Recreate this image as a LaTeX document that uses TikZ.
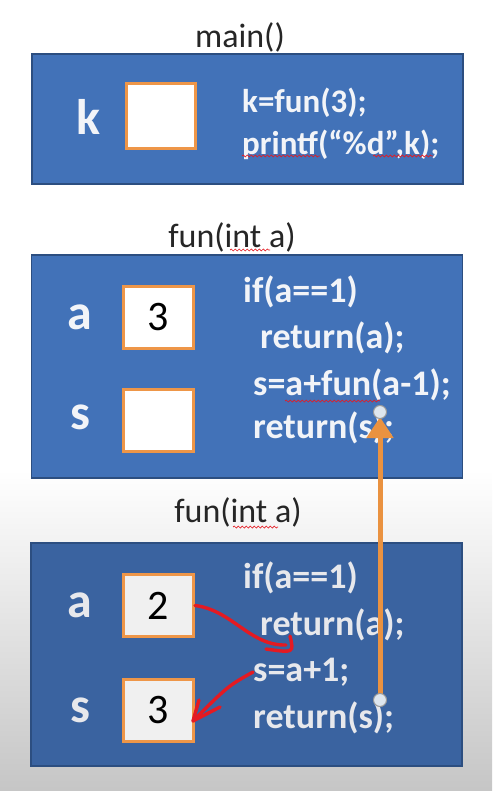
\documentclass[tikz,border=0pt]{standalone}
\usepackage{fontspec}
\setmainfont{Carlito}
\usetikzlibrary{%
		arrows.meta%
		,decorations.pathmorphing%
	}

\definecolor{frameblue}{RGB}{66,114,184}
\definecolor{framedark}{RGB}{44,78,128}
\definecolor{lowblue}{RGB}{58,99,160}
\definecolor{boxorange}{RGB}{238,150,72}
\definecolor{retorange}{RGB}{234,146,64}
\definecolor{penred}{RGB}{228,26,34}
\definecolor{codewhite}{RGB}{242,244,248}
\definecolor{handle}{RGB}{222,230,238}

\begin{document}
\begin{tikzpicture}[x=1pt,y=-1pt,
		frame/.style={draw=framedark, line width=1.8pt, minimum width=431pt, inner sep=0pt},
		valbox/.style={draw=boxorange, line width=3pt, fill=white, minimum width=70pt, minimum height=62pt, font=\fontsize{42}{42}\selectfont},
		varname/.style={text=codewhite, font=\fontsize{50}{50}\selectfont\bfseries},
		title/.style={text=black!85, font=\fontsize{34}{34}\selectfont},
		code/.style={anchor=west, inner sep=0pt, text=codewhite, font=\fontsize{36}{36}\selectfont\bfseries},
		squiggle/.style={draw=penred, line width=0.7pt, decorate, decoration={snake, segment length=4pt, amplitude=1pt}},
		redpen/.style={draw=penred, line width=3.4pt, line cap=round, line join=round},
		retline/.style={draw=retorange, line width=5pt, -{Triangle[width=26pt,length=21pt]}},
		grip/.style={draw=black!40, fill=handle, line width=1pt}
	]
			\useasboundingbox (0,0) rectangle (492,791);
			
			% Background
			\fill[white] (0,0) rectangle (492,791);
			\shade[top color=white, bottom color=gray!45] (0,470) rectangle (492,791);
			
			% main()
			\node[title] (maintitle) at (240,37) {main()};
			\node[frame, fill=frameblue, minimum height=130pt] (mainframe) at (247.5,119) {};
			\node[varname] (kname) at (88,117) {k};
			\node[valbox, minimum width=69pt, minimum height=65pt] (kbox) at (161,116) {};
			\node[code, font=\fontsize{33}{33}\selectfont\bfseries] (mline1) at (242,103) {k=fun(3);};
			\node[code, font=\fontsize{33}{33}\selectfont\bfseries] (mline2) at (242,145) {printf(“\%d”,k);};
			\draw[squiggle] (242,156) -- (320,156);
			\draw[squiggle] (373,156) -- (433,156);
			
			% fun(int a) with a=3
			\node[title] (funtitle1) at (232,237) {fun(int a)};
			\draw[squiggle] (230,250) -- (270,250);
			\node[frame, fill=frameblue, minimum height=223pt] (funframe1) at (247,366.5) {};
			\node[varname] (aname1) at (80,317) {a};
			\node[valbox] (abox1) at (158.5,317.5) {3};
			\node[varname] (sname1) at (80,417) {s};
			\node[valbox] (sbox1) at (158.5,420.5) {};
			\node[code] (fline1) at (243,292) {if(a==1)};
			\node[code] (fline2) at (260,338) {return(a);};
			\node[code] (fline3) at (253,385) {s=a+fun(a-1);};
			\node[code] (fline4) at (253,428) {return(s);};
			\draw[squiggle] (285,401) -- (380,401);
			
			% fun(int a) with a=2
			\node[title] (funtitle2) at (238,512) {fun(int a)};
			\draw[squiggle] (233,527) -- (278,527);
			\node[frame, fill=lowblue, minimum height=223pt] (funframe2) at (246.5,654.5) {};
			\node[varname, text=codewhite!90!gray] (aname2) at (80,605) {a};
			\node[valbox, fill=gray!12] (abox2) at (158.5,605.5) {2};
			\node[varname, text=codewhite!90!gray] (sname2) at (80,710) {s};
			\node[valbox, fill=gray!12] (sbox2) at (158.5,710.5) {3};
			\node[code, text=codewhite!90!gray] (gline1) at (243,578) {if(a==1)};
			\node[code, text=codewhite!90!gray] (gline2) at (260,625) {return(a);};
			\node[code, text=codewhite!90!gray] (gline3) at (253,672) {s=a+1;};
			\node[code, text=codewhite!90!gray] (gline4) at (253,718) {return(s);};
			
			% Return value going up
			\coordinate (rettop) at (380,412);
			\coordinate (retbot) at (380,700);
			\draw[retline, shorten >=5pt] (retbot) -- (rettop);
			\draw[grip] (rettop) circle [radius=6.5];
			\draw[grip] (retbot) circle [radius=6.5];
			
			% Red pen: a into s=a+1
			\coordinate (hookend) at (286,645);
			\draw[redpen] (abox2.east) .. controls (232,610) and (250,646) .. (hookend);
			\draw[redpen] (290,636) .. controls (294,653) .. (266,649);
			
			% Red pen: s=a+1 into s
			\coordinate (stip) at (193,721);
			\draw[redpen] (gline3.west) .. controls (228,686) .. (stip);
			\draw[redpen] (199,700) -- (stip) -- (220,707);
			
		\end{tikzpicture}
\end{document}
